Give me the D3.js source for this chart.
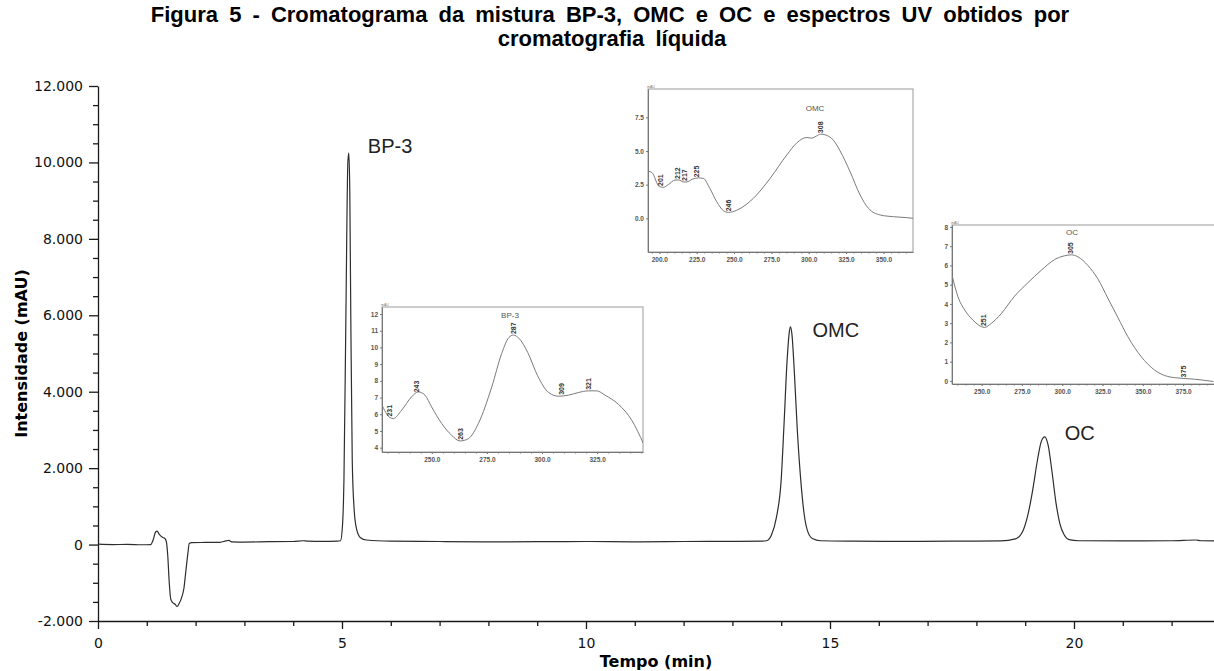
<!DOCTYPE html>
<html>
<head>
<meta charset="utf-8">
<script src="https://cdn.jsdelivr.net/npm/d3@7"></script>
<style>
  body { margin: 0; background: #fff; }
  svg { display: block; }
</style>
</head>
<body>
<svg id="chart"></svg>
<script>
// cromatograma (tempo em min, intensidade em mAU)
const tempo = [0.0, 0.3, 0.6, 0.9, 1.08, 1.13, 1.18, 1.21, 1.26, 1.32, 1.37, 1.40, 1.43, 1.46, 1.49, 1.53, 1.58, 1.62, 1.66, 1.71, 1.76, 1.80, 1.84, 1.87, 1.92,
  2.2, 2.5, 2.62, 2.68, 2.75, 3.0, 3.5, 4.0, 4.2, 4.3, 4.6, 4.9, 4.97, 5.01, 5.04, 5.08, 5.12, 5.14, 5.16, 5.18, 5.21, 5.25, 5.30, 5.38, 5.5,
  6.0, 7.0, 8.0, 9.0, 10.0, 11.0, 12.0, 13.0, 13.6, 13.7, 13.8, 13.9, 14.0, 14.06, 14.12, 14.17, 14.19, 14.22, 14.27, 14.33, 14.40, 14.47, 14.55, 14.65, 14.8,
  15.5, 16.5, 17.5, 18.5, 18.8, 18.95, 19.05, 19.15, 19.25, 19.33, 19.4, 19.47, 19.55, 19.63, 19.71, 19.8, 19.9, 20.1, 21.0, 22.0, 22.5, 22.6, 23.0];
const intensidade = [10, 0, 5, -5, 0, 120, 330, 350, 260, 190, 160, 80, -300, -1000, -1420, -1520, -1560, -1620, -1550, -1400, -1150, -700, -250, 30, 50,
  55, 60, 95, 110, 70, 65, 75, 80, 100, 90, 85, 90, 100, 500, 1700, 6000, 10000, 10250, 9200, 6000, 2200, 900, 400, 180, 120,
  90, 80, 70, 75, 80, 70, 80, 85, 90, 100, 250, 700, 1700, 3200, 4800, 5600, 5700, 5500, 4500, 3000, 1700, 800, 320, 150, 100,
  90, 85, 90, 95, 150, 350, 750, 1400, 2200, 2700, 2820, 2600, 1900, 1100, 550, 250, 130, 100, 95, 100, 120, 100, 95];

const xTicks = [0, 5, 10, 15, 20];
const yTicks = [-2000, 0, 2000, 4000, 6000, 8000, 10000, 12000];

const picos = ['BP-3', 'OMC', 'OC'];
const picosTempo = [5.14, 14.19, 19.4];
const picosIntensidade = [10250, 5700, 2820];

// espectros UV (comprimento de onda em nm, absorbância em mAU)
const bp3Wl = [227.2, 231, 232.5, 236.3, 240.8, 243.9, 246.9, 249.9, 254.5, 259, 262.8, 266.6, 271.1, 277.2, 281.7, 285, 287, 289.5, 293.5, 298,
  303, 307.5, 311.9, 316.5, 321, 324.8, 328.6, 334.6, 340.7, 346];
const bp3Abs = [6.6, 5.8, 5.74, 6.24, 7.04, 7.34, 7.14, 6.44, 5.44, 4.74, 4.4, 4.54, 5.44, 7.64, 9.64, 10.6, 10.74, 10.55, 9.7, 8.3,
  7.3, 7.08, 7.14, 7.3, 7.4, 7.4, 7.14, 6.6, 5.64, 4.24];
const bp3Picos = [231, 243, 263, 287, 309, 321];

const omcWl = [192.4, 195, 200, 202.7, 206, 210.5, 213, 216.1, 218.3, 222, 226.1, 229.5, 233.9, 238.4, 242.9, 246.2, 251.8, 262.9, 274.1, 285.3,
  292, 298.7, 302, 305, 308, 311, 316.5, 321, 327.7, 334.4, 340, 347.8, 356.7, 365.6, 369.8];
const omcAbs = [3.5, 3.4, 2.35, 2.3, 2.5, 2.84, 2.85, 2.7, 2.7, 2.9, 3.0, 2.96, 2.2, 1.23, 0.57, 0.44, 0.6, 1.48, 2.96, 4.7,
  5.6, 6.0, 5.95, 6.1, 6.25, 6.2, 5.8, 5.0, 3.46, 1.73, 0.74, 0.25, 0.12, 0.05, 0.0];
const omcPicos = [201, 212, 217, 225, 246, 308];

const ocWl = [231.6, 235.3, 239.5, 244.6, 249.8, 251.8, 256, 262.2, 270.4, 278.7, 287, 295.2, 301.4, 305.6, 309.7, 315.9, 322.1, 328.3, 334.5,
  340.7, 349, 357.2, 365.5, 373.7, 382, 393.8];
const ocAbs = [5.5, 4.37, 3.68, 3.16, 2.82, 2.78, 2.99, 3.5, 4.4, 5.1, 5.75, 6.3, 6.5, 6.55, 6.45, 6.0, 5.3, 4.3, 3.3,
  2.3, 1.26, 0.57, 0.23, 0.14, 0.09, -0.03];
const ocPicos = [251, 305, 375];

const width = 1214, height = 671;

const svg = d3.select('#chart')
    .attr('width', width)
    .attr('height', height);

const ptBR = d3.formatLocale({ decimal: ',', thousands: '.', grouping: [3], currency: ['R$', ''], minus: '-' });
const fmtY = ptBR.format(',d');

const x = d3.scaleLinear().domain([0, 23]).range([98, 98 + 23 * 48.8]);
const y = d3.scaleLinear().domain([-2000, 12000]).range([621, 86]);

// titulo
const title = svg.append('text')
    .attr('text-anchor', 'middle')
    .attr('font-family', '"Liberation Sans", Arial, sans-serif')
    .attr('font-weight', 'bold')
    .attr('font-size', 22)
    .attr('word-spacing', 5)
    .attr('fill', '#000');
title.append('tspan').attr('x', 610).attr('y', 22)
    .text('Figura 5 - Cromatograma da mistura BP-3, OMC e OC e espectros UV obtidos por');
title.append('tspan').attr('x', 612).attr('y', 46)
    .text('cromatografia líquida');

// eixos principais
const xAxisG = svg.append('g')
    .attr('transform', `translate(0,${y(-2000)})`)
    .call(d3.axisBottom(x).tickValues(xTicks).tickSize(8).tickSizeOuter(0).tickPadding(9).tickFormat(d3.format('d')));
svg.append('g')
    .attr('transform', `translate(0,${y(-2000)})`)
    .call(d3.axisBottom(x).tickValues(d3.range(0, 24, 1).filter(d => d % 5)).tickSize(5).tickFormat(''))
    .select('.domain').remove();

const yAxisG = svg.append('g')
    .attr('transform', `translate(${x(0)},0)`)
    .call(d3.axisLeft(y).tickValues(yTicks).tickSize(9).tickSizeOuter(0).tickPadding(6).tickFormat(fmtY));
svg.append('g')
    .attr('transform', `translate(${x(0)},0)`)
    .call(d3.axisLeft(y).tickValues(d3.range(-2000, 12001, 500).filter(d => d % 2000)).tickSize(5).tickFormat(''))
    .select('.domain').remove();

svg.selectAll('.domain, .tick line').attr('stroke', '#1a1a1a').attr('stroke-width', 1.3);
[xAxisG, yAxisG].forEach(g => g.selectAll('text')
    .attr('font-family', '"DejaVu Sans", Verdana, sans-serif')
    .attr('font-size', 14)
    .attr('fill', '#111'));

svg.append('text')
    .attr('x', (98 + 1214) / 2)
    .attr('y', 667)
    .attr('text-anchor', 'middle')
    .attr('font-family', '"DejaVu Sans", Verdana, sans-serif')
    .attr('font-weight', 'bold')
    .attr('font-size', 16)
    .text('Tempo (min)');

svg.append('text')
    .attr('transform', `translate(27,${(86 + 621) / 2}) rotate(-90)`)
    .attr('text-anchor', 'middle')
    .attr('font-family', '"DejaVu Sans", Verdana, sans-serif')
    .attr('font-weight', 'bold')
    .attr('font-size', 16)
    .text('Intensidade (mAU)');

// linha do cromatograma
const crom = tempo.map((t, i) => ({ t: t, v: intensidade[i] }));
svg.append('path')
    .datum(crom)
    .attr('fill', 'none')
    .attr('stroke', '#2e2e2e')
    .attr('stroke-width', 1.2)
    .attr('d', d3.line().x(d => x(d.t)).y(d => y(d.v)).curve(d3.curveMonotoneX));

// rotulos dos picos
const labelOffset = [[19, 0], [22, 10], [20, 3]];
svg.selectAll('.pico-label')
    .data(picos)
    .join('text')
    .attr('class', 'pico-label')
    .attr('x', (d, i) => x(picosTempo[i]) + labelOffset[i][0])
    .attr('y', (d, i) => y(picosIntensidade[i]) + labelOffset[i][1])
    .attr('font-family', '"Liberation Sans", Arial, sans-serif')
    .attr('font-size', 20)
    .attr('fill', '#222')
    .text(d => d);

// espectros UV
function interp(wl, abs, p) {
    const i = d3.bisectLeft(wl, p);
    if (i <= 0) return abs[0];
    if (i >= wl.length) return abs[abs.length - 1];
    const f = (p - wl[i - 1]) / (wl[i] - wl[i - 1]);
    return abs[i - 1] + f * (abs[i] - abs[i - 1]);
}

function drawSpectrum(cfg) {
    const [x0, y0, x1, y1] = cfg.box;
    const sx = d3.scaleLinear().domain(cfg.xDom).range([x0, x1]);
    const sy = d3.scaleLinear().domain(cfg.yDom).range([y1, y0]);
    const g = svg.append('g').attr('class', 'inset');

    g.append('rect')
        .attr('x', x0).attr('y', y0)
        .attr('width', x1 - x0).attr('height', y1 - y0)
        .attr('fill', '#fff')
        .attr('stroke', '#9a9a9a')
        .attr('stroke-width', 1);

    const clipId = 'clip-' + cfg.nome.replace(/\W/g, '');
    g.append('clipPath').attr('id', clipId)
        .append('rect').attr('x', x0).attr('y', y0).attr('width', x1 - x0).attr('height', y1 - y0);

    const ax = g.append('g')
        .attr('transform', `translate(0,${y1})`)
        .call(d3.axisBottom(sx).tickValues(cfg.xTicks).tickSize(2).tickSizeOuter(0).tickPadding(3).tickFormat(d3.format('.1f')));
    g.append('g')
        .attr('transform', `translate(0,${y1})`)
        .call(d3.axisBottom(sx).tickValues(d3.range(Math.ceil(cfg.xDom[0] / 5) * 5, cfg.xDom[1], 5)).tickSize(1.5).tickFormat(''))
        .select('.domain').remove();
    const ay = g.append('g')
        .attr('transform', `translate(${x0},0)`)
        .call(d3.axisLeft(sy).tickValues(cfg.yTicks).tickSize(2).tickSizeOuter(0).tickPadding(2).tickFormat(d3.format(cfg.yFmt)));
    g.selectAll('.domain').attr('stroke', '#777');
    g.selectAll('.tick line').attr('stroke', '#777');
    [ax, ay].forEach(a => a.selectAll('text')
        .attr('font-family', '"Liberation Sans", Arial, sans-serif')
        .attr('font-weight', 'bold')
        .attr('font-size', 6.5)
        .attr('fill', '#555'));

    g.append('text')
        .attr('x', x0 - 1).attr('y', y0 - 1.5)
        .attr('font-family', '"Liberation Sans", Arial, sans-serif')
        .attr('font-size', 3.5)
        .attr('fill', '#777')
        .text('mAU');

    const pts = cfg.wl.map((w, i) => ({ w: w, a: cfg.abs[i] }));
    g.append('path')
        .datum(pts)
        .attr('clip-path', `url(#${clipId})`)
        .attr('fill', 'none')
        .attr('stroke', '#7a7a7a')
        .attr('stroke-width', 1)
        .attr('d', d3.line().x(d => sx(d.w)).y(d => sy(d.a)).curve(d3.curveMonotoneX));

    g.selectAll('.pk')
        .data(cfg.picos)
        .join('text')
        .attr('class', 'pk')
        .attr('transform', d => `translate(${sx(d) + 2.5},${sy(interp(cfg.wl, cfg.abs, d)) - 1}) rotate(-90)`)
        .attr('font-family', '"Liberation Sans", Arial, sans-serif')
        .attr('font-weight', 'bold')
        .attr('font-size', 7)
        .attr('fill', '#333')
        .text(d => d);

    g.append('text')
        .attr('x', cfg.title[0]).attr('y', cfg.title[1])
        .attr('text-anchor', 'middle')
        .attr('font-family', '"Liberation Sans", Arial, sans-serif')
        .attr('font-size', 8)
        .attr('fill', '#555')
        .text(cfg.nome);
}

drawSpectrum({ nome: 'OMC', wl: omcWl, abs: omcAbs, picos: omcPicos,
    box: [648, 89, 913, 252], xDom: [192.4, 369.8], yDom: [-2.5, 9.6],
    xTicks: [200, 225, 250, 275, 300, 325, 350], yTicks: [0, 2.5, 5, 7.5], yFmt: '.1f', title: [815, 111] });
drawSpectrum({ nome: 'BP-3', wl: bp3Wl, abs: bp3Abs, picos: bp3Picos,
    box: [382, 307, 643, 452], xDom: [227.4, 345.8], yDom: [3.74, 12.42],
    xTicks: [250, 275, 300, 325], yTicks: [4, 5, 6, 7, 8, 9, 10, 11, 12], yFmt: 'd', title: [510, 318] });
drawSpectrum({ nome: 'OC', wl: ocWl, abs: ocAbs, picos: ocPicos,
    box: [952, 225, 1230, 384], xDom: [231.6, 404.1], yDom: [-0.16, 8.1],
    xTicks: [250, 275, 300, 325, 350, 375], yTicks: [0, 1, 2, 3, 4, 5, 6, 7, 8], yFmt: 'd', title: [1072, 235] });
</script>
</body>
</html>
